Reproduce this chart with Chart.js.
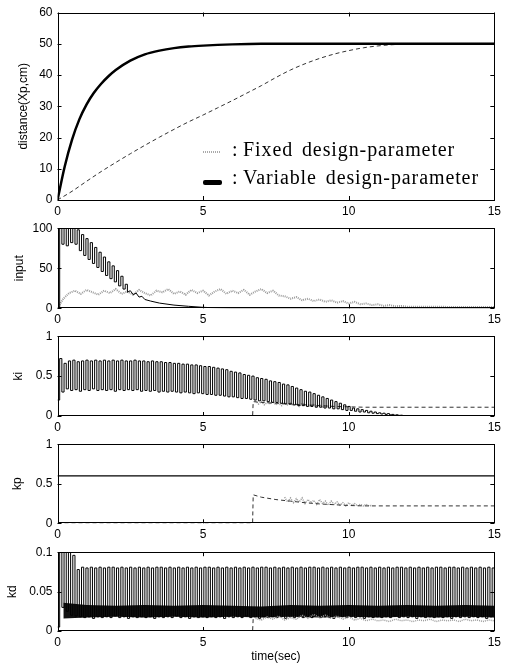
<!DOCTYPE html>
<html>
<head>
<meta charset="utf-8">
<script src="https://cdn.jsdelivr.net/npm/chart.js@4.4.1/dist/chart.umd.min.js"></script>
<style>
  body { margin: 0; background: #fff; }
  #wrap { position: relative; width: 505px; height: 664px; overflow: hidden; }
  .panel { position: absolute; left: 0; width: 505px; }
  .panel canvas { display: block; }
  .lg { position: absolute; font-family: "Liberation Serif", "DejaVu Serif", serif; font-size: 20px;
        line-height: 20px; letter-spacing: 0.9px; word-spacing: 3px; color: #000; white-space: nowrap; }
  .mk { position: absolute; }
</style>
</head>
<body>
<div id="wrap">
  <div class="panel" style="top:0;height:216px"><canvas id="cDist" width="505" height="216"></canvas></div>
  <div class="panel" style="top:216px;height:108px"><canvas id="cInput" width="505" height="108"></canvas></div>
  <div class="panel" style="top:324px;height:108px"><canvas id="cKi" width="505" height="108"></canvas></div>
  <div class="panel" style="top:432px;height:108px"><canvas id="cKp" width="505" height="108"></canvas></div>
  <div class="panel" style="top:540px;height:124px"><canvas id="cKd" width="505" height="124"></canvas></div>

  <div class="mk" style="left:203px;top:151px;width:17px;height:2px;background:repeating-linear-gradient(90deg,#aaa 0 1px,#fff 1px 2px)"></div>
  <div class="lg" style="left:232px;top:139px">:</div>
  <div class="lg" style="left:243px;top:139px">Fixed design-parameter</div>
  <div class="mk" style="left:203px;top:180px;width:19px;height:5px;background:#000;border-radius:2px"></div>
  <div class="lg" style="left:232px;top:167px">:</div>
  <div class="lg" style="left:243px;top:167px">Variable design-parameter</div>
</div>
<script>
// ---------------- data ----------------
const timeTicks = [0, 5, 10, 15];

// distance
const distTicks = [0, 10, 20, 30, 40, 50, 60];
const distT = [0, 0.25, 0.5, 0.75, 1, 1.25, 1.5, 1.75, 2, 2.5, 3, 3.5, 4, 4.5, 5, 6, 7, 8, 9, 10, 11, 12, 13, 14, 15];
const distVariable = [0, 10.8, 19.3, 25.8, 30.6, 34.3, 37.2, 39.6, 41.6, 44.6, 46.6, 47.8, 48.6, 49.1, 49.4, 49.8, 50, 50, 50, 50, 50, 50, 50, 50, 50];
const distFixedT = [0, 0.5, 1, 1.5, 2, 2.5, 3, 3.5, 4, 4.5, 5, 5.5, 6, 6.5, 7, 7.5, 8, 8.5, 9, 9.5, 10, 10.5, 11, 11.5, 12, 12.5, 15];
const distFixed = [0, 2.8, 6.0, 9.1, 12.0, 14.8, 17.5, 20.1, 22.6, 25.0, 27.2, 29.5, 31.8, 34.2, 36.6, 39.2, 41.6, 43.6, 45.3, 46.7, 47.8, 48.7, 49.3, 49.7, 49.9, 50, 50];
const distFixedTailT = [11.3, 15];
const distFixedTail = [50, 50];

// input
const inputTicks = [0, 50, 100];
const inputStep = 0.075;
const inputVariableOsc = [0, 100, 80, 100, 78, 100, 82, 100, 80, 98, 72, 92, 66, 87, 61, 82, 56, 76, 51, 70,
  46, 64, 41, 58, 37, 53, 33, 47, 28, 40, 24, 30, 20];
const inputVariableTailT = [2.4, 2.5, 2.6, 2.7, 2.8, 2.9, 3.0, 3.2, 3.5, 4, 4.5, 5, 5.5, 6, 15];
const inputVariableTail = [20, 22, 17, 19, 14, 15, 11, 9, 6.5, 4, 2.5, 1.2, 0.5, 0, 0];
const inputFixedStep = 0.2;
const inputFixed = [0, 12, 19, 22, 18, 23, 20, 17, 22, 19, 24, 18, 21, 17, 23, 19, 16, 22, 20, 24,
  18, 21, 17, 23, 19, 22, 16, 21, 24, 18, 22, 19, 23, 17, 21, 24, 19, 22, 16, 15,
  12, 14, 10, 12, 9, 11, 8, 10, 7, 9, 6, 8, 5, 6, 4, 5, 3, 4, 2.5, 3, 2];
const inputFixedTailT = [15];
const inputFixedTail = [1.5];

// ki
const gainTicks = [0, 0.5, 1];
const kiStep = 0.075;
const kiVariable = [
  0.20, 0.72, 0.30, 0.66, 0.34, 0.69, 0.32, 0.70, 0.33, 0.68,
  0.31, 0.69, 0.33, 0.70, 0.32, 0.69, 0.34, 0.70, 0.32, 0.69,
  0.33, 0.70, 0.32, 0.69, 0.33, 0.70, 0.31, 0.69, 0.33, 0.70,
  0.32, 0.69, 0.33, 0.69, 0.32, 0.70, 0.33, 0.69, 0.31, 0.69,
  0.32, 0.68, 0.31, 0.69, 0.32, 0.68, 0.30, 0.68, 0.31, 0.67,
  0.30, 0.67, 0.31, 0.66, 0.30, 0.66, 0.29, 0.65, 0.30, 0.65,
  0.29, 0.64, 0.28, 0.64, 0.29, 0.63, 0.28, 0.62, 0.27, 0.62,
  0.27, 0.61, 0.26, 0.60, 0.26, 0.59, 0.25, 0.58, 0.24, 0.56,
  0.24, 0.55, 0.23, 0.54, 0.22, 0.52, 0.22, 0.51, 0.21, 0.50,
  0.20, 0.48, 0.19, 0.47, 0.19, 0.46, 0.18, 0.44, 0.17, 0.43,
  0.17, 0.42, 0.16, 0.40, 0.15, 0.39, 0.15, 0.37, 0.14, 0.35,
  0.13, 0.33, 0.13, 0.31, 0.12, 0.30, 0.12, 0.28, 0.11, 0.26,
  0.11, 0.24, 0.10, 0.22, 0.10, 0.20, 0.09, 0.18, 0.09, 0.16,
  0.08, 0.14, 0.07, 0.12, 0.07, 0.10, 0.06, 0.09, 0.05, 0.08,
  0.05, 0.07, 0.04, 0.06, 0.035, 0.05, 0.03, 0.04, 0.025, 0.035,
  0.02, 0.03, 0.015, 0.02, 0.01, 0.015, 0.008, 0.01, 0.005, 0.005,
  0.003];
const kiFixedT = [0, 6.7, 6.72, 7, 7.5, 8, 8.5, 9, 9.5, 10, 10.5, 15];
const kiFixed = [0, 0, 0.18, 0.17, 0.16, 0.15, 0.14, 0.13, 0.12, 0.115, 0.11, 0.11];
const kiNoiseStart = 6.8;
const kiNoiseStep = 0.1;
const kiFixedNoise = [0.19, 0.15, 0.18, 0.14, 0.17, 0.15, 0.18, 0.14, 0.16, 0.13, 0.17, 0.14, 0.16, 0.13,
  0.15, 0.12, 0.16, 0.13, 0.14, 0.12, 0.15, 0.12, 0.14, 0.11, 0.13, 0.12, 0.13];

// kp
const kpVariableT = [0, 15];
const kpVariable = [0.6, 0.6];
const kpFixedT = [0, 6.7, 6.72, 7, 7.5, 8, 8.5, 9, 9.5, 10, 10.5, 11, 15];
const kpFixed = [0, 0, 0.36, 0.33, 0.30, 0.28, 0.26, 0.245, 0.235, 0.225, 0.22, 0.22, 0.22];
const kpNoiseStart = 7.8;
const kpNoiseStep = 0.1;
const kpFixedNoise = [0.33, 0.27, 0.32, 0.26, 0.31, 0.27, 0.32, 0.25, 0.30, 0.26, 0.29, 0.24, 0.30, 0.25,
  0.28, 0.23, 0.28, 0.24, 0.27, 0.23, 0.26, 0.22, 0.26, 0.23, 0.25, 0.22, 0.24, 0.22, 0.24, 0.22, 0.23];

// kd
const kdTicks = [0, 0.05, 0.1];
const kdStep = 0.075;
const kdVariable = [
  0.005, 0.100, 0.030, 0.100, 0.025, 0.100, 0.020, 0.096, 0.019, 0.078,
  0.018, 0.081, 0.017, 0.080, 0.018, 0.081, 0.016, 0.080, 0.018, 0.081,
  0.017, 0.080, 0.018, 0.081, 0.017, 0.081, 0.019, 0.080, 0.017, 0.081,
  0.018, 0.080, 0.016, 0.081, 0.018, 0.080, 0.017, 0.081, 0.018, 0.080,
  0.017, 0.081, 0.018, 0.080, 0.016, 0.081, 0.018, 0.081, 0.017, 0.080,
  0.018, 0.081, 0.017, 0.080, 0.019, 0.081, 0.017, 0.080, 0.018, 0.081,
  0.016, 0.080, 0.018, 0.081, 0.017, 0.080, 0.018, 0.081, 0.017, 0.081,
  0.018, 0.080, 0.017, 0.081, 0.018, 0.080, 0.016, 0.081, 0.018, 0.080,
  0.017, 0.081, 0.018, 0.080, 0.017, 0.081, 0.019, 0.080, 0.017, 0.081,
  0.018, 0.080, 0.016, 0.081, 0.018, 0.081, 0.017, 0.080, 0.018, 0.081,
  0.017, 0.080, 0.018, 0.081, 0.016, 0.080, 0.018, 0.081, 0.017, 0.080,
  0.018, 0.081, 0.017, 0.080, 0.018, 0.081, 0.017, 0.081, 0.019, 0.080,
  0.017, 0.081, 0.018, 0.080, 0.017, 0.081, 0.016, 0.080, 0.018, 0.081,
  0.018, 0.080, 0.017, 0.081, 0.018, 0.080, 0.017, 0.081, 0.018, 0.081,
  0.016, 0.080, 0.018, 0.081, 0.017, 0.080, 0.018, 0.081, 0.017, 0.080,
  0.018, 0.081, 0.017, 0.080, 0.019, 0.081, 0.017, 0.081, 0.018, 0.080,
  0.017, 0.081, 0.018, 0.080, 0.016, 0.081, 0.018, 0.080, 0.017, 0.081,
  0.018, 0.080, 0.017, 0.081, 0.018, 0.081, 0.017, 0.080, 0.018, 0.081,
  0.016, 0.081, 0.018, 0.080, 0.017, 0.081, 0.018, 0.080, 0.017, 0.081,
  0.018, 0.080, 0.017, 0.081, 0.018, 0.080, 0.016, 0.081, 0.018, 0.080,
  0.017];
const kdBandT = [0.2, 1, 2, 3, 4, 5, 6, 7, 8, 9, 10, 11, 12, 13, 14, 15];
const kdBandHi = [0.036, 0.033, 0.032, 0.033, 0.032, 0.033, 0.032, 0.031, 0.033, 0.032, 0.033, 0.032, 0.033, 0.032, 0.033, 0.032];
const kdBandLo = [0.016, 0.017, 0.018, 0.017, 0.018, 0.017, 0.018, 0.017, 0.018, 0.017, 0.018, 0.017, 0.018, 0.017, 0.018, 0.017];
const kdFixedT = [0, 6.7, 6.72];
const kdFixed = [0, 0, 0.016];
const kdNoiseStart = 6.8;
const kdNoiseStep = 0.2;
const kdFixedNoise = [0.016, 0.014, 0.018, 0.015, 0.019, 0.014, 0.017, 0.015, 0.020, 0.016, 0.021, 0.017, 0.020, 0.016,
  0.019, 0.015, 0.018, 0.014, 0.016, 0.013, 0.015, 0.013, 0.014, 0.012, 0.015, 0.013, 0.014, 0.012,
  0.014, 0.013, 0.015, 0.012, 0.014, 0.013, 0.014, 0.012, 0.015, 0.013, 0.014, 0.012, 0.014, 0.013];

// ---------------- helpers ----------------
const pts = (ts, vs) => ts.map((t, i) => ({ x: t, y: vs[i] }));
const stepPts = (dt, vs, t0 = 0) => vs.map((v, i) => ({ x: t0 + i * dt, y: v }));

const line = (data, color, width, dash, extra) => Object.assign({
  data, borderColor: color, borderWidth: width, borderDash: dash || [],
  pointRadius: 0, fill: false, tension: 0
}, extra || {});

const BLACK = "#000";
const DASH = "#333";
const GRAY = "#9c9c9c";

Chart.defaults.font.family = "'Liberation Sans', Arial, sans-serif";
Chart.defaults.font.size = 12;
Chart.defaults.color = "#000";

// MATLAB style box with inward ticks
const boxPlugin = {
  id: "box",
  afterDraw(chart) {
    const { ctx, chartArea: a, scales: { x, y } } = chart;
    ctx.save();
    ctx.strokeStyle = "#000";
    ctx.lineWidth = 1;
    ctx.strokeRect(Math.round(a.left) + 0.5, Math.round(a.top) + 0.5,
      Math.round(a.right - a.left) - 1, Math.round(a.bottom - a.top) - 1);
    ctx.beginPath();
    x.ticks.forEach(t => {
      const px = Math.round(x.getPixelForValue(t.value)) + 0.5;
      ctx.moveTo(px, a.bottom); ctx.lineTo(px, a.bottom - 4);
      ctx.moveTo(px, a.top); ctx.lineTo(px, a.top + 4);
    });
    y.ticks.forEach(t => {
      const py = Math.round(y.getPixelForValue(t.value)) + 0.5;
      ctx.moveTo(a.left, py); ctx.lineTo(a.left + 4, py);
      ctx.moveTo(a.right, py); ctx.lineTo(a.right - 4, py);
    });
    ctx.stroke();
    ctx.restore();
  }
};

function makePanel(id, p) {
  return new Chart(document.getElementById(id), {
    type: "line",
    data: { datasets: p.datasets },
    options: {
      responsive: false,
      animation: false,
      events: [],
      layout: { padding: { top: p.padTop, left: p.padLeft, right: 7, bottom: 0 } },
      plugins: { legend: { display: false }, tooltip: { enabled: false } },
      scales: {
        x: {
          type: "linear", min: 0, max: 15,
          afterBuildTicks: s => { s.ticks = timeTicks.map(v => ({ value: v })); },
          afterFit: s => { s.height = p.xHeight; },
          ticks: { padding: 4, maxRotation: 0, callback: v => String(v) },
          grid: { display: false, drawTicks: false },
          border: { display: false },
          title: { display: !!p.xTitle, text: p.xTitle || "", padding: 0, font: { size: 12 } }
        },
        y: {
          min: p.yTicks[0], max: p.yTicks[p.yTicks.length - 1],
          afterBuildTicks: s => { s.ticks = p.yTicks.map(v => ({ value: v })); },
          afterFit: s => { s.width = 57.5 - p.padLeft; },
          ticks: { padding: 5, callback: v => String(v) },
          grid: { display: false, drawTicks: false },
          border: { display: false },
          title: { display: true, text: p.yTitle, padding: 0, font: { size: 12 } }
        }
      }
    },
    plugins: [boxPlugin]
  });
}

// ---------------- panels ----------------
makePanel("cDist", {
  padTop: 12.5, padLeft: 16.8, xHeight: 16, yTicks: distTicks, yTitle: "distance(Xp,cm)",
  datasets: [
    line(pts(distT, distVariable), BLACK, 2.5, null, { cubicInterpolationMode: "monotone" }),
    line(pts(distFixedTailT, distFixedTail), GRAY, 2, [1, 1]),
    line(pts(distFixedT, distFixed), DASH, 1, [4, 3], { cubicInterpolationMode: "monotone" })
  ]
});

makePanel("cInput", {
  padTop: 10.7, padLeft: 12.8, xHeight: 15.7, yTicks: inputTicks, yTitle: "input",
  datasets: [
    line(stepPts(inputStep, inputVariableOsc), BLACK, 1, null, { stepped: true }),
    line(pts(inputVariableTailT, inputVariableTail), BLACK, 1),
    line(stepPts(inputFixedStep, inputFixed).concat(pts(inputFixedTailT, inputFixedTail)), GRAY, 2, [1, 1])
  ]
});

makePanel("cKi", {
  padTop: 10.3, padLeft: 11.8, xHeight: 16, yTicks: gainTicks, yTitle: "ki",
  datasets: [
    line(stepPts(kiStep, kiVariable), BLACK, 1, null, { stepped: true }),
    line(pts(kiFixedT, kiFixed), DASH, 1, [4, 3]),
    line(stepPts(kiNoiseStep, kiFixedNoise, kiNoiseStart), GRAY, 1.5, [1, 1])
  ]
});

makePanel("cKp", {
  padTop: 11.3, padLeft: 10.3, xHeight: 16.7, yTicks: gainTicks, yTitle: "kp",
  datasets: [
    line(pts(kpVariableT, kpVariable), BLACK, 1.2),
    line(pts(kpFixedT, kpFixed), DASH, 1, [4, 3]),
    line(stepPts(kpNoiseStep, kpFixedNoise, kpNoiseStart), GRAY, 1.5, [1, 1])
  ]
});

makePanel("cKd", {
  padTop: 10.5, padLeft: 5.3, xHeight: 33, yTicks: kdTicks, yTitle: "kd", xTitle: "time(sec)",
  datasets: [
    line(stepPts(kdNoiseStep, kdFixedNoise, kdNoiseStart), GRAY, 1.5, [1, 1]),
    line(stepPts(kdStep, kdVariable), BLACK, 1, null, { stepped: true }),
    line(pts(kdBandT, kdBandHi), "#111", 0, null, { fill: "+1", backgroundColor: "#111" }),
    line(pts(kdBandT, kdBandLo), "#111", 0),
    line(pts(kdFixedT, kdFixed), DASH, 1, [4, 3])
  ]
});
</script>
</body>
</html>
